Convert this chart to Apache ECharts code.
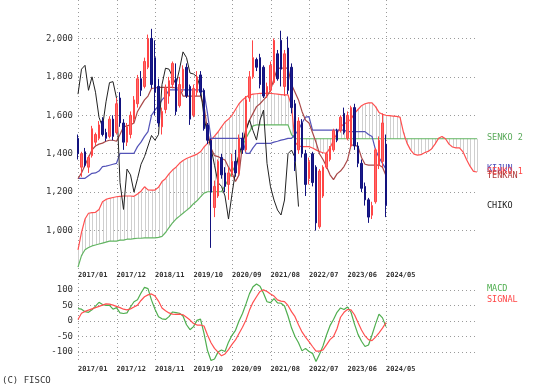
<!DOCTYPE html>
<html><head><meta charset="utf-8">
<script src="https://cdn.jsdelivr.net/npm/echarts@6/dist/echarts.min.js"></script>
<style>html,body{margin:0;padding:0;background:#fff}#c{width:541px;height:390px}</style>
</head><body><div id="c"></div><script>
// ---- data ----
const xTickLabels = ['2017/01','2017/12','2018/11','2019/10','2020/09','2021/08','2022/07','2023/06','2024/05'];
const startYear = 2017, nMonths = 115; // 89 price months + 26 months of projected cloud
const open  = [1480,1330,1410,1330,1390,1460,1480,1570,1510,1490, 1580,1510,1690,1560,1460,1500,1580,1660,1790,1750, 1850,2000,1900,1750,1540,1630,1700,1760,1790,1650, 1740,1850,1750,1600,1720,1810,1730,1550,1470,1120, 1180,1380,1300,1240,1300,1360,1300,1480,1420,1690, 1800,1890,1900,1850,1710,1730,1770,1920,1990,1750, 1950,1850,1660,1420,1560,1400,1270,1400,1330,1020, 1180,1330,1370,1420,1520,1520,1610,1480,1440,1640, 1440,1350,1230,1160,1080,1150,1340,1360,1450];
const close = [1400,1400,1340,1380,1530,1500,1550,1500,1480,1580, 1490,1660,1560,1460,1540,1600,1680,1790,1730,1880, 2000,1760,1720,1560,1620,1740,1780,1870,1620,1760, 1840,1700,1580,1740,1800,1720,1530,1470,1200,1230, 1360,1290,1230,1300,1360,1300,1480,1420,1680,1800, 1900,1850,1760,1700,1750,1860,1990,1790,1840,1920, 1730,1640,1360,1570,1400,1240,1360,1250,1040,1310, 1330,1400,1430,1520,1470,1590,1510,1600,1640,1440, 1350,1220,1160,1070,1130,1420,1470,1560,1130];
const low   = [1370,1280,1330,1300,1380,1440,1470,1490,1465,1480, 1470,1500,1540,1420,1440,1480,1560,1640,1700,1740, 1840,1740,1600,1540,1500,1610,1660,1740,1600,1640, 1720,1690,1550,1590,1700,1700,1520,1450, 910,1070, 1170,1270,1200,1160,1280,1280,1290,1400,1410,1670, 1790,1830,1740,1690,1690,1720,1760,1780,1750,1700, 1710,1610,1310,1400,1380,1180,1240,1230,1000,1010, 1170,1320,1360,1410,1460,1510,1500,1470,1430,1420, 1330,1200,1130,1040,1060,1140,1320,1330,1070];
const high  = [1500,1410,1430,1390,1545,1510,1570,1590,1530,1595, 1600,1690,1720,1580,1560,1620,1700,1810,1830,1900, 2020,2050,1990,1790,1640,1760,1800,1880,1870,1800, 1860,1870,1760,1760,1830,1830,1740,1560,1480,1260, 1370,1400,1330,1330,1400,1420,1500,1510,1700,1830, 1990,1900,1920,1860,1770,1880,2000,1940,2040,1940, 2010,1870,1680,1590,1580,1420,1380,1410,1340,1320, 1340,1410,1440,1530,1530,1600,1640,1620,1650,1660, 1460,1370,1250,1170,1150,1430,1490,1610,1500];
const tenkan = [1270,1300,1340,1380,1420,1440,1450,1455,1465,1470, 1470,1465,1500,1540,1545,1550,1560,1620,1650,1680, 1700,1740,1742,1745,1745,1745,1745,1745,1742,1742, 1700,1700,1700,1700,1700,1700,1650,1520,1430,1390, 1385,1375,1367,1330,1300,1255,1290,1450,1530,1575, 1610,1645,1660,1680,1700,1730,1790,1844,1845,1845, 1845,1760,1720,1680,1620,1575,1560,1510,1460,1400, 1370,1333,1290,1265,1295,1310,1333,1367,1445,1445, 1437,1380,1345,1341,1341,1341,1341,1330,1285];
const kijun = [1272,1272,1272,1285,1298,1300,1310,1333,1335,1340, 1345,1350,1402,1402,1402,1402,1402,1437,1460,1490, 1515,1600,1627,1650,1680,1700,1732,1732,1732,1732, 1732,1732,1732,1732,1732,1732,1720,1610,1480,1480, 1480,1480,1480,1480,1480,1480,1480,1480,1402,1402, 1430,1454,1454,1454,1454,1454,1460,1465,1471,1475, 1480,1480,1500,1523,1560,1590,1593,1523,1523,1523, 1523,1523,1523,1523,1523,1523,1523,1515,1515,1515, 1515,1515,1515,1500,1490,1420,1380,1350,1320];
const senko1 = [900,990,1060,1090,1093,1095,1110,1150,1162,1168, 1172,1176,1178,1180,1180,1180,1178,1190,1205,1228, 1212,1211,1211,1225,1255,1270,1295,1315,1330,1350, 1365,1375,1383,1390,1398,1410,1435,1454,1471,1492, 1513,1540,1565,1580,1600,1630,1660,1680,1695,1705, 1710,1712,1714,1714,1714,1714,1712,1710,1708,1706, 1706,1650,1460,1440,1437,1437,1437,1430,1420,1411, 1405,1402,1430,1470,1505,1540,1555,1565,1580,1610, 1630,1650,1660,1665,1665,1645,1615,1605,1600,1598, 1596,1594,1590,1510,1455,1420,1398,1393,1395,1405, 1412,1425,1450,1480,1490,1478,1450,1435,1430,1430, 1410,1370,1335,1308,1305];
const senko2 = [810,870,900,912,920,925,930,935,940,945, 945,945,950,950,955,955,958,960,960,962, 962,962,962,965,970,990,1015,1040,1060,1075, 1090,1105,1120,1140,1155,1175,1195,1202,1202,1202, 1202,1202,1235,1265,1305,1340,1390,1440,1480,1515, 1545,1550,1550,1550,1550,1550,1550,1550,1550,1550, 1550,1500,1478,1478,1478,1478,1478,1478,1478,1478, 1478,1478,1478,1478,1478,1478,1478,1478,1478,1478, 1478,1478,1478,1478,1478,1478,1478,1478,1478,1478, 1478,1478,1478,1478,1478,1478,1478,1478,1478,1478, 1478,1478,1478,1478,1478,1478,1478,1478,1478,1478, 1478,1478,1478,1478,1478];
const chiko = [1710,1840,1860,1730,1800,1720,1590,1540,1670,1770, 1775,1690,1250,1110,1320,1290,1200,1270,1345,1385, 1440,1495,1470,1500,1760,1845,1840,1800,1760,1840, 1930,1900,1820,1815,1800,1740,1590,1500,1430,1340, 1250,1230,1180,1060,1190,1310,1400,1450,1520,1575, 1520,1471,1575,1627,1350,1228,1159,1107,1081,1159, 1400,1419,1380,1125];
const macd = [40,38,30,28,36,48,60,53,50,50, 38,43,26,24,26,45,62,68,90,108, 104,67,38,14,7,5,14,29,27,25, 16,-12,-28,-18,2,6,-40,-95,-127,-122, -100,-93,-98,-68,-46,-30,0,24,55,88, 110,119,112,89,62,59,72,58,57,48, 16,-22,-50,-70,-96,-88,-98,-104,-130,-107, -80,-45,-15,5,28,42,37,45,28,-10, -43,-65,-82,-77,-45,-10,22,10,-18];
const signal = [5,25,31,35,39,43,47,51,55,54, 51,47,43,38,36,39,45,51,66,78, 84,87,80,64,42,33,26,22,21,22, 20,12,3,-8,-13,-13,-16,-45,-70,-88, -100,-112,-106,-92,-75,-61,-40,-20,3,35, 60,78,95,100,95,87,80,68,64,62, 50,30,14,-12,-35,-52,-66,-82,-97,-97, -93,-77,-60,-50,-25,12,28,37,36,20, -5,-29,-48,-60,-63,-52,-38,-23,-5];

// ---- build ----
const months = [];
for (let k = 0; k < nMonths; k++) {
  const y = startYear + Math.floor(k / 12), m = k % 12 + 1;
  months.push(y + '/' + (m < 10 ? '0' : '') + m);
}
const showIdx = idx => xTickLabels.indexOf(months[idx]) >= 0;
const MONO = 'DejaVu Sans Mono';
const GRIDC = '#9a9a9a';
const gridLine = {color: GRIDC, width: 1, type: [1, 3]};
const fmt = v => String(v).replace(/\B(?=(\d{3})+(?!\d))/g, ',');

function xAx(g) {
  return {type: 'category', gridIndex: g, data: months, boundaryGap: false,
    axisLine: {show: false}, axisTick: {show: false},
    axisLabel: {interval: (i) => showIdx(i), align: 'left',
      fontFamily: MONO, fontWeight: 'bold', fontSize: 7, color: '#333', margin: 3},
    splitLine: {show: false}};
}
// vertical grid lines drawn through the axis scales at the labelled months
function vGrid(g, yTop, yBot) {
  return {type: 'custom', xAxisIndex: g, yAxisIndex: g, silent: true, z: 0, clip: false,
    data: xTickLabels.map(t => [t]),
    renderItem: (params, api) => {
      const a = api.coord([api.value(0), yTop]);
      const b = api.coord([api.value(0), yBot]);
      const x = Math.round(a[0]) + 0.5;
      return {type: 'line', shape: {x1: x, y1: a[1], x2: x, y2: b[1]},
        style: {stroke: GRIDC, lineWidth: 1, lineDash: [1, 3]}};
    }};
}

const chart = echarts.init(document.getElementById('c'), null, {renderer: 'canvas'});
chart.setOption({
  animation: false,
  backgroundColor: '#fff',
  grid: [
    {left: 78, right: 64, top: 0, height: 269},
    {left: 78, right: 64, top: 279, height: 84}
  ],
  xAxis: [xAx(0), xAx(1)],
  yAxis: [
    {type: 'value', gridIndex: 0, min: 800, max: 2200, interval: 200,
      axisLine: {show: false}, axisTick: {show: false},
      axisLabel: {showMinLabel: false, showMaxLabel: false, formatter: v => fmt(v),
        fontFamily: MONO, fontSize: 9, color: '#333', margin: 5},
      splitLine: {show: true, showMinLine: false, showMaxLine: false, lineStyle: gridLine}},
    {type: 'value', gridIndex: 1, min: -135, max: 135, splitNumber: 5,
      axisLine: {show: false}, axisTick: {show: false},
      axisLabel: {showMinLabel: false, showMaxLabel: false,
        fontFamily: MONO, fontSize: 9, color: '#333', margin: 5},
      splitLine: {show: true, showMinLine: false, showMaxLine: false, lineStyle: gridLine}}
  ],
  series: [
    vGrid(0, 2200, 800),
    vGrid(1, 135, -135),
    {type: 'custom', xAxisIndex: 0, yAxisIndex: 0, silent: true, z: 1, clip: false,
      data: senko1.map((v, i) => [i, v, senko2[i]]),
      renderItem: (params, api) => {
        const a = api.coord([api.value(0), api.value(1)]);
        const b = api.coord([api.value(0), api.value(2)]);
        const x = Math.round(a[0]) + 0.5;
        return {type: 'line', shape: {x1: x, y1: a[1], x2: x, y2: b[1]},
          style: {stroke: '#cfcfcf', lineWidth: 1}};
      }},
    {type: 'line', name: 'SENKO 2', data: senko2, showSymbol: false, z: 2,
      lineStyle: {color: '#62b562', width: 1.2}},
    {type: 'line', name: 'SENKO 1', data: senko1, showSymbol: false, z: 2,
      lineStyle: {color: '#ff5050', width: 1.2}},
    {type: 'line', name: 'KIJUN', data: kijun, showSymbol: false, z: 3,
      lineStyle: {color: '#5353b8', width: 1.2}},
    {type: 'line', name: 'TENKAN', data: tenkan, showSymbol: false, z: 3,
      lineStyle: {color: '#a84848', width: 1.2}},
    {type: 'line', name: 'CHIKO', data: chiko, showSymbol: false, z: 3,
      lineStyle: {color: '#222', width: 1}},
    {type: 'candlestick', name: 'price', data: open.map((o, i) => [o, close[i], low[i], high[i]]),
      barWidth: 2.4, clip: false, z: 4,
      itemStyle: {color: '#ff6a6a', color0: '#1a1a8c', borderColor: '#ff4545', borderColor0: '#12127e', borderWidth: 1}},
    {type: 'line', name: 'MACD', xAxisIndex: 1, yAxisIndex: 1, data: macd, showSymbol: false,
      lineStyle: {color: '#4fae4f', width: 1.2}},
    {type: 'line', name: 'SIGNAL', xAxisIndex: 1, yAxisIndex: 1, data: signal, showSymbol: false,
      lineStyle: {color: '#ff5050', width: 1.2}}
  ]
});

function yPix(v) { return chart.convertToPixel({yAxisIndex: 0}, v); }
const lab = (text, y, color) => ({type: 'text', left: 487, top: y - 5,
  style: {text: text, fill: color, font: '8.5px "' + MONO + '"'}});
chart.setOption({graphic: [
  lab('SENKO 2', yPix(senko2[senko2.length - 1]), '#5aaa5a'),
  lab('KIJUN', yPix(kijun[kijun.length - 1]), '#4a4ab8'),
  lab('SENKO 1', yPix(senko1[senko1.length - 1]), '#ff4545'),
  lab('TENKAN', yPix(tenkan[tenkan.length - 1]), '#b03a3a'),
  lab('CHIKO', yPix(chiko[chiko.length - 1]), '#222'),
  lab('MACD', 289, '#4fae4f'),
  lab('SIGNAL', 300, '#ff4545'),
  {type: 'text', left: 2, top: 376, style: {text: '(C) FISCO', fill: '#333', font: '9px "' + MONO + '"'}}
]});
</script></body></html>
